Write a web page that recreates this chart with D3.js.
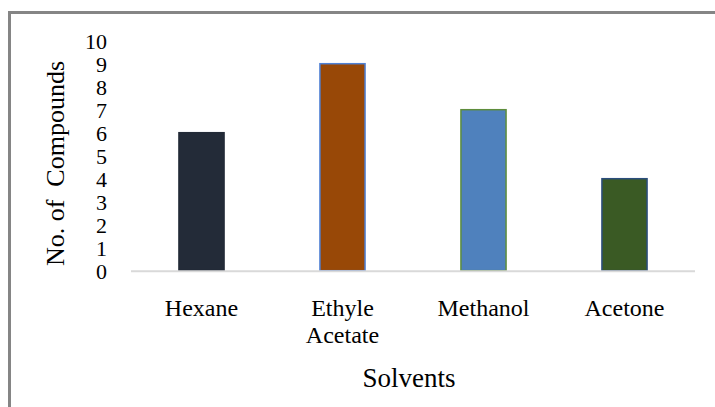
<!DOCTYPE html>
<html>
<head>
<meta charset="utf-8">
<script src="https://cdn.jsdelivr.net/npm/d3@7"></script>
<style>
  html, body { margin: 0; padding: 0; background: #fff; }
  svg text { font-family: "Liberation Serif", "Times New Roman", serif; fill: #000; }
</style>
</head>
<body>
<svg id="chart" width="715" height="407"></svg>
<script>
// Number of compounds identified per extraction solvent
const solvents = ["Hexane", "Ethyle Acetate", "Methanol", "Acetone"];
const compounds = [6, 9, 7, 4];
const fills = ["#232b38", "#984807", "#4f81bd", "#3a5a24"];
const outlines = ["#232b38", "#4f81d6", "#5e8d3c", "#2b4d7c"];
const yTicks = [0, 1, 2, 3, 4, 5, 6, 7, 8, 9, 10];

const svg = d3.select("#chart");

// frame
svg.append("line").attr("x1", 9.5).attr("x2", 9.5).attr("y1", 11).attr("y2", 407)
  .attr("stroke", "#858585").attr("stroke-width", 3);
svg.append("line").attr("x1", 8).attr("x2", 715).attr("y1", 12.5).attr("y2", 12.5)
  .attr("stroke", "#858585").attr("stroke-width", 3);

const plot = { left: 131, right: 695, top: 40.7, bottom: 270.7 };

const x = d3.scaleBand().domain(solvents).range([plot.left, plot.right])
  .paddingInner(0.68).paddingOuter(0.34);
const y = d3.scaleLinear().domain([0, 10]).range([plot.bottom, plot.top]);

// bars
svg.append("g").selectAll("rect").data(solvents).join("rect")
  .attr("x", d => x(d))
  .attr("width", x.bandwidth())
  .attr("y", (d, i) => y(compounds[i]))
  .attr("height", (d, i) => y(0) - y(compounds[i]))
  .attr("fill", (d, i) => fills[i])
  .attr("stroke", (d, i) => outlines[i])
  .attr("stroke-width", 1.5);

// category axis line
svg.append("line").attr("x1", plot.left).attr("x2", plot.right)
  .attr("y1", y(0) + 0.5).attr("y2", y(0) + 0.5)
  .attr("stroke", "#d9d9d9").attr("stroke-width", 2);

// value axis labels
const yAxis = d3.axisLeft(y).tickValues(yTicks).tickSize(0).tickPadding(0);
const gy = svg.append("g").attr("transform", "translate(107,0)").call(yAxis);
gy.select(".domain").remove();
gy.selectAll("text").attr("font-size", 22).attr("dy", "0.34em")
  .style("font-family", "'Liberation Serif', serif").attr("fill", "#000");

// category labels (wrapped)
const gx = svg.append("g");
solvents.forEach(s => {
  const words = s.split(" ");
  const t = gx.append("text")
    .attr("x", x(s) + x.bandwidth() / 2)
    .attr("y", 316)
    .attr("text-anchor", "middle")
    .attr("font-size", 24);
  words.forEach((w, k) => {
    t.append("tspan").attr("x", x(s) + x.bandwidth() / 2)
      .attr("dy", k === 0 ? 0 : 27).text(w);
  });
});

// axis titles
svg.append("text")
  .attr("x", (plot.left + plot.right) / 2 - 4)
  .attr("y", 387)
  .attr("text-anchor", "middle")
  .attr("font-size", 27)
  .text("Solvents");

svg.append("text")
  .attr("transform", `translate(64,${(60 + 267) / 2}) rotate(-90)`)
  .attr("text-anchor", "middle")
  .attr("font-size", 26)
  .style("white-space", "pre")
  .text("No. of  Compounds");
</script>
</body>
</html>
